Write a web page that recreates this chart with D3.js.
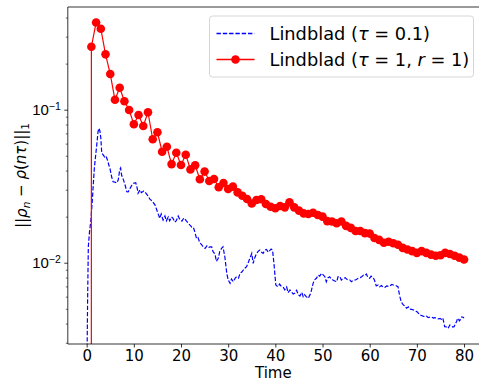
<!DOCTYPE html>
<html>
<head>
<meta charset="utf-8">
<script src="https://cdn.jsdelivr.net/npm/d3@7"></script>
<style>
  body { margin: 0; background: #fff; }
  svg { display: block; font-family: "DejaVu Sans", sans-serif; }
</style>
</head>
<body>
<div id="chart"></div>
<script>
// Lindblad (tau = 1, r = 1): one value per integer time step
const redTimes = d3.range(0, 81);
const redValues = [
  0, 0.258, 0.371, 0.338, 0.230, 0.171, 0.116, 0.139, 0.1135, 0.0995,
  0.0803, 0.0923, 0.0782, 0.0962, 0.0641, 0.0712, 0.0531, 0.0573, 0.0441, 0.0523,
  0.0435, 0.0508, 0.0407, 0.0433, 0.0351, 0.0394, 0.0342, 0.0352, 0.0311, 0.0332,
  0.0303, 0.0314, 0.0288, 0.0274, 0.0261, 0.0244, 0.0257, 0.0260, 0.0242, 0.0232,
  0.0227, 0.0235, 0.0230, 0.0248, 0.0230, 0.0219, 0.0210, 0.0208, 0.0212, 0.0205,
  0.0200, 0.0187, 0.0186, 0.0181, 0.0186, 0.0174, 0.0169, 0.0161, 0.0161, 0.0156,
  0.0155, 0.0145, 0.0141, 0.0135, 0.0137, 0.0134, 0.0131, 0.0125, 0.0122, 0.0119,
  0.0116, 0.0119, 0.0116, 0.0113, 0.0111, 0.0112, 0.0116, 0.0114, 0.0111, 0.0108,
  0.0105
];

// Lindblad (tau = 0.1)
const blueTimes = [
  0, 0.1, 0.2, 0.35, 0.6, 0.9, 1.2, 1.6, 1.8, 2.1, 2.4, 2.6, 2.8, 3.0, 3.2, 3.5, 3.8,
  4.1, 4.4, 4.7, 5.0, 5.3, 5.6, 6.0, 6.4, 6.7, 7.0, 7.2, 7.4, 7.8, 8.2, 8.5, 8.8,
  9.2, 9.6, 9.9, 10.4, 10.7, 10.9, 11.3, 11.6, 12.1, 12.6, 13.0, 13.4, 13.9, 14.5,
  15.0, 15.5, 15.8, 16.2, 16.6, 16.9, 17.3, 17.6, 18.0, 18.3, 18.7, 19.0, 19.4, 19.7,
  20.2, 20.6, 21.0, 21.5, 21.9, 22.3, 22.6, 22.9, 23.3, 23.6, 24.0, 24.4, 24.7, 25.1,
  25.5, 25.9, 26.2, 26.5, 26.8, 27.2, 27.5, 27.9, 28.2, 28.6, 28.9, 29.3, 29.7, 30.0,
  30.4, 30.7, 31.1, 31.5, 31.8, 32.2, 32.5, 32.9, 33.2, 33.6, 33.9, 34.3, 34.6, 35.0,
  35.3, 35.6, 36.0, 36.4, 36.7, 37.1, 37.4, 37.8, 38.1, 38.5, 38.8, 39.1, 39.4, 39.7,
  40.1, 40.5, 40.9, 41.3, 41.7, 42.0, 42.4, 42.7, 43.1, 43.4, 43.8, 44.1, 44.5, 44.9,
  45.2, 45.6, 45.9, 46.2, 46.6, 47.0, 47.2, 47.5, 48.0, 48.3, 48.7, 49.1, 49.4, 49.8,
  50.2, 50.5, 50.8, 51.1, 51.5, 51.9, 52.2, 52.6, 53.0, 53.3, 53.7, 54.0, 54.4, 54.8,
  55.1, 55.4, 55.8, 56.1, 56.5, 56.9, 57.2, 57.6, 58.0, 58.3, 58.7, 59.0, 59.3, 59.6,
  60.0, 60.3, 60.7, 61.0, 61.4, 61.8, 62.1, 62.5, 62.9, 63.2, 63.6, 64.0, 64.3, 64.7,
  65.0, 65.3, 65.7, 66.0, 66.2, 66.4, 66.7, 67.1, 67.5, 67.8, 68.2, 68.5, 68.9, 69.3,
  69.6, 70.0, 70.3, 70.6, 71.0, 71.3, 71.7, 72.0, 72.4, 72.7, 73.1, 73.5, 73.8, 74.2,
  74.6, 74.9, 75.2, 75.5, 75.9, 76.3, 76.6, 77.0, 77.3, 77.6, 77.9, 78.2, 78.4, 78.6,
  78.8, 79.0, 79.2, 79.5, 79.8, 80.0
];
const blueValues = [
  0, 0.0028, 0.0057, 0.0127, 0.0159, 0.0190, 0.0257, 0.0404, 0.0469, 0.0573, 0.0715, 0.0755, 0.0726, 0.0653, 0.0521, 0.0506, 0.0491,
  0.0498, 0.0469, 0.0435, 0.0404, 0.0363, 0.0338, 0.0336, 0.0332, 0.0348, 0.0404, 0.0416, 0.0374, 0.0348, 0.0317, 0.0291, 0.0290,
  0.0306, 0.0322, 0.0330, 0.0333, 0.0308, 0.0284, 0.0299, 0.0287, 0.0294, 0.0284, 0.0273, 0.0260, 0.0253, 0.0238,
  0.0215, 0.0195, 0.0208, 0.0190, 0.0202, 0.0188, 0.0199, 0.0188, 0.0199, 0.0195, 0.0184, 0.0188, 0.0202, 0.0193,
  0.0187, 0.0196, 0.0190, 0.0182, 0.0176, 0.0171, 0.0171, 0.0160, 0.0144, 0.0146, 0.0135, 0.0131, 0.0127, 0.0124,
  0.0129, 0.0126, 0.0127, 0.0127, 0.0118, 0.0114, 0.0102, 0.0107, 0.0118, 0.0124, 0.0127, 0.0109, 0.00853, 0.00771,
  0.00733, 0.00782, 0.00751, 0.00794, 0.00810, 0.00794, 0.00853, 0.00869, 0.00896, 0.00923, 0.00941, 0.0101, 0.0107, 0.0115,
  0.00991, 0.0107, 0.0115, 0.0119, 0.0121, 0.0117, 0.0115, 0.0121, 0.0122, 0.0117, 0.0120, 0.0123, 0.0121, 0.00991,
  0.00715, 0.00697, 0.00725, 0.00697, 0.00688, 0.00664, 0.00694, 0.00637, 0.00664, 0.00646, 0.00624, 0.00631, 0.00661, 0.00617,
  0.00605, 0.00640, 0.00599, 0.00617, 0.00598, 0.00585, 0.00605, 0.00631, 0.00733, 0.00771, 0.00791, 0.00830, 0.00817, 0.00853,
  0.00830, 0.00810, 0.00751, 0.00794, 0.00810, 0.00782, 0.00771, 0.00760, 0.00751, 0.00810, 0.00810, 0.00771, 0.00787, 0.00799,
  0.00782, 0.00771, 0.00771, 0.00751, 0.00765, 0.00771, 0.00777, 0.00794, 0.00799, 0.00810, 0.00830, 0.00825, 0.00843, 0.00806,
  0.00791, 0.00817, 0.00802, 0.00771, 0.00705, 0.00715, 0.00697, 0.00710, 0.00690, 0.00690, 0.00705, 0.00699, 0.00705, 0.00721,
  0.00715, 0.00715, 0.00705, 0.00697, 0.00643, 0.00600, 0.00554, 0.00530, 0.00522, 0.00504, 0.00514, 0.00498, 0.00496, 0.00491,
  0.00484, 0.00479, 0.00469, 0.00455, 0.00452, 0.00448, 0.00444, 0.00448, 0.00438, 0.00440, 0.00442, 0.00435, 0.00438, 0.00434,
  0.00429, 0.00432, 0.00427, 0.00435, 0.00382, 0.00380, 0.00372, 0.00392, 0.00388, 0.00380, 0.00382, 0.00401, 0.00411, 0.00429,
  0.00434, 0.00417, 0.00423, 0.00442, 0.00440, 0.00435
];

const xTicks = [0, 10, 20, 30, 40, 50, 60, 70, 80];
const yMajorTicks = [0.01, 0.1];
const yMajorExponents = ['−2', '−1'];

const WIDTH = 479, HEIGHT = 380;
const PLOT = { left: 67.8, right: 482.9, top: 7, bottom: 344 };

const svg = d3.select('#chart').append('svg')
  .attr('width', WIDTH)
  .attr('height', HEIGHT);

const x = d3.scaleLinear().domain([-4, 84]).range([PLOT.left, PLOT.right]);
const y = d3.scaleLog().domain([0.002943, 0.4688]).range([PLOT.bottom, PLOT.top]);

// matplotlib clips non-positive values on a log axis to a tiny number
const clipLog = v => (v > 0 ? v : 1e-300);

svg.append('clipPath').attr('id', 'plot-clip')
  .append('rect')
  .attr('x', PLOT.left).attr('y', PLOT.top)
  .attr('width', PLOT.right - PLOT.left).attr('height', PLOT.bottom - PLOT.top);

const plot = svg.append('g').attr('clip-path', 'url(#plot-clip)');

const blueData = blueTimes.map((t, i) => ({ t, v: blueValues[i] }));
const redData = redTimes.map((t, i) => ({ t, v: redValues[i] }));

const line = d3.line()
  .x(d => x(d.t))
  .y(d => y(clipLog(d.v)));

plot.append('path')
  .datum(blueData)
  .attr('fill', 'none')
  .attr('stroke', '#0000ff')
  .attr('stroke-width', 1.2)
  .attr('stroke-dasharray', '4.4,1.9')
  .attr('d', line);

plot.append('path')
  .datum(redData)
  .attr('fill', 'none')
  .attr('stroke', '#ff0000')
  .attr('stroke-width', 1.2)
  .attr('d', line);

plot.selectAll('circle.red')
  .data(redData)
  .join('circle')
  .attr('class', 'red')
  .attr('cx', d => x(d.t))
  .attr('cy', d => y(clipLog(d.v)))
  .attr('r', 4.3)
  .attr('fill', '#ff0000');

// axes
const xAxis = svg.append('g')
  .attr('transform', `translate(0, ${PLOT.bottom})`)
  .call(d3.axisBottom(x).tickValues(xTicks).tickSize(3.5).tickPadding(3));
xAxis.select('.domain').remove();
xAxis.selectAll('text').attr('font-size', 15).attr('fill', '#000').attr('font-family', 'DejaVu Sans');
xAxis.selectAll('line').attr('stroke', '#000').attr('stroke-width', 0.8);

const minorTicks = [];
[0.001, 0.01, 0.1].forEach(base => {
  for (let k = 2; k <= 9; k++) {
    const v = base * k;
    if (v >= y.domain()[0] && v <= y.domain()[1]) minorTicks.push(v);
  }
});

const yAxis = svg.append('g').attr('transform', `translate(${PLOT.left}, 0)`);
yAxis.call(d3.axisLeft(y).tickValues(minorTicks).tickSize(2).tickFormat(''));
yAxis.select('.domain').remove();
yAxis.selectAll('line').attr('stroke', '#000').attr('stroke-width', 0.6);

const yMajor = svg.append('g').attr('transform', `translate(${PLOT.left}, 0)`);
yMajor.call(d3.axisLeft(y).tickValues(yMajorTicks).tickSize(3.5).tickFormat(''));
yMajor.select('.domain').remove();
yMajor.selectAll('line').attr('stroke', '#000').attr('stroke-width', 0.8);
yMajor.selectAll('.tick').each(function(d, i) {
  const t = d3.select(this).append('text')
    .attr('x', -7)
    .attr('dy', '0.32em')
    .attr('text-anchor', 'end')
    .attr('font-size', 15)
    .attr('fill', '#000');
  t.append('tspan').text('10');
  t.append('tspan').attr('dy', '-0.45em').attr('font-size', 10.5).text(yMajorExponents[i]);
});

// spines (right spine falls outside the picture)
const spines = svg.append('g').attr('stroke', '#000').attr('stroke-width', 0.8).attr('fill', 'none');
spines.append('line').attr('x1', PLOT.left).attr('x2', PLOT.left).attr('y1', PLOT.top).attr('y2', PLOT.bottom);
spines.append('line').attr('x1', PLOT.left).attr('x2', PLOT.right).attr('y1', PLOT.bottom).attr('y2', PLOT.bottom);
spines.append('line').attr('x1', PLOT.left).attr('x2', PLOT.right).attr('y1', PLOT.top).attr('y2', PLOT.top);
spines.append('line').attr('x1', PLOT.right).attr('x2', PLOT.right).attr('y1', PLOT.top).attr('y2', PLOT.bottom);

// axis labels
svg.append('text')
  .attr('x', (PLOT.left + PLOT.right) / 2 - 2)
  .attr('y', 377.5)
  .attr('text-anchor', 'middle')
  .attr('font-size', 15)
  .attr('fill', '#000')
  .text('Time');

const yLabel = svg.append('text')
  .attr('transform', `translate(27, ${(PLOT.top + PLOT.bottom) / 2}) rotate(-90)`)
  .attr('text-anchor', 'middle')
  .attr('font-size', 15)
  .attr('fill', '#000');
yLabel.append('tspan').text('||');
yLabel.append('tspan').attr('font-style', 'italic').text('ρ');
yLabel.append('tspan').attr('font-style', 'italic').attr('font-size', 10.5).attr('dy', '0.25em').text('n');
yLabel.append('tspan').attr('dy', '-0.25em').text(' − ');
yLabel.append('tspan').attr('font-style', 'italic').text('ρ');
yLabel.append('tspan').text('(');
yLabel.append('tspan').attr('font-style', 'italic').text('nτ');
yLabel.append('tspan').text(')||');
yLabel.append('tspan').attr('font-size', 10.5).attr('dy', '0.25em').text('1');

// legend
const legend = svg.append('g').attr('transform', 'translate(209.5, 16)');
legend.append('rect')
  .attr('width', 264).attr('height', 61)
  .attr('rx', 3)
  .attr('fill', '#fff').attr('fill-opacity', 0.8)
  .attr('stroke', '#cccccc').attr('stroke-width', 0.8);

const legendItems = [
  { y: 17.5, color: '#0000ff', dashed: true, pre: 'Lindblad (', sym: 'τ', mid: ' = 0.1)', r: null },
  { y: 43.5, color: '#ff0000', dashed: false, pre: 'Lindblad (', sym: 'τ', mid: ' = 1, ', r: 'r' }
];
legendItems.forEach(item => {
  const g = legend.append('g').attr('transform', `translate(0, ${item.y})`);
  g.append('line')
    .attr('x1', 7).attr('x2', 45)
    .attr('stroke', item.color)
    .attr('stroke-width', 1.3)
    .attr('stroke-dasharray', item.dashed ? '4.4,1.9' : null);
  if (!item.dashed) g.append('circle').attr('cx', 26).attr('r', 4.3).attr('fill', item.color);
  const t = g.append('text').attr('x', 60).attr('dy', '0.36em').attr('font-size', 17.8).attr('fill', '#000');
  t.append('tspan').text(item.pre);
  t.append('tspan').attr('font-style', 'italic').text(item.sym);
  t.append('tspan').text(item.mid);
  if (item.r) {
    t.append('tspan').attr('font-style', 'italic').text(item.r);
    t.append('tspan').text(' = 1)');
  }
});
</script>
</body>
</html>
